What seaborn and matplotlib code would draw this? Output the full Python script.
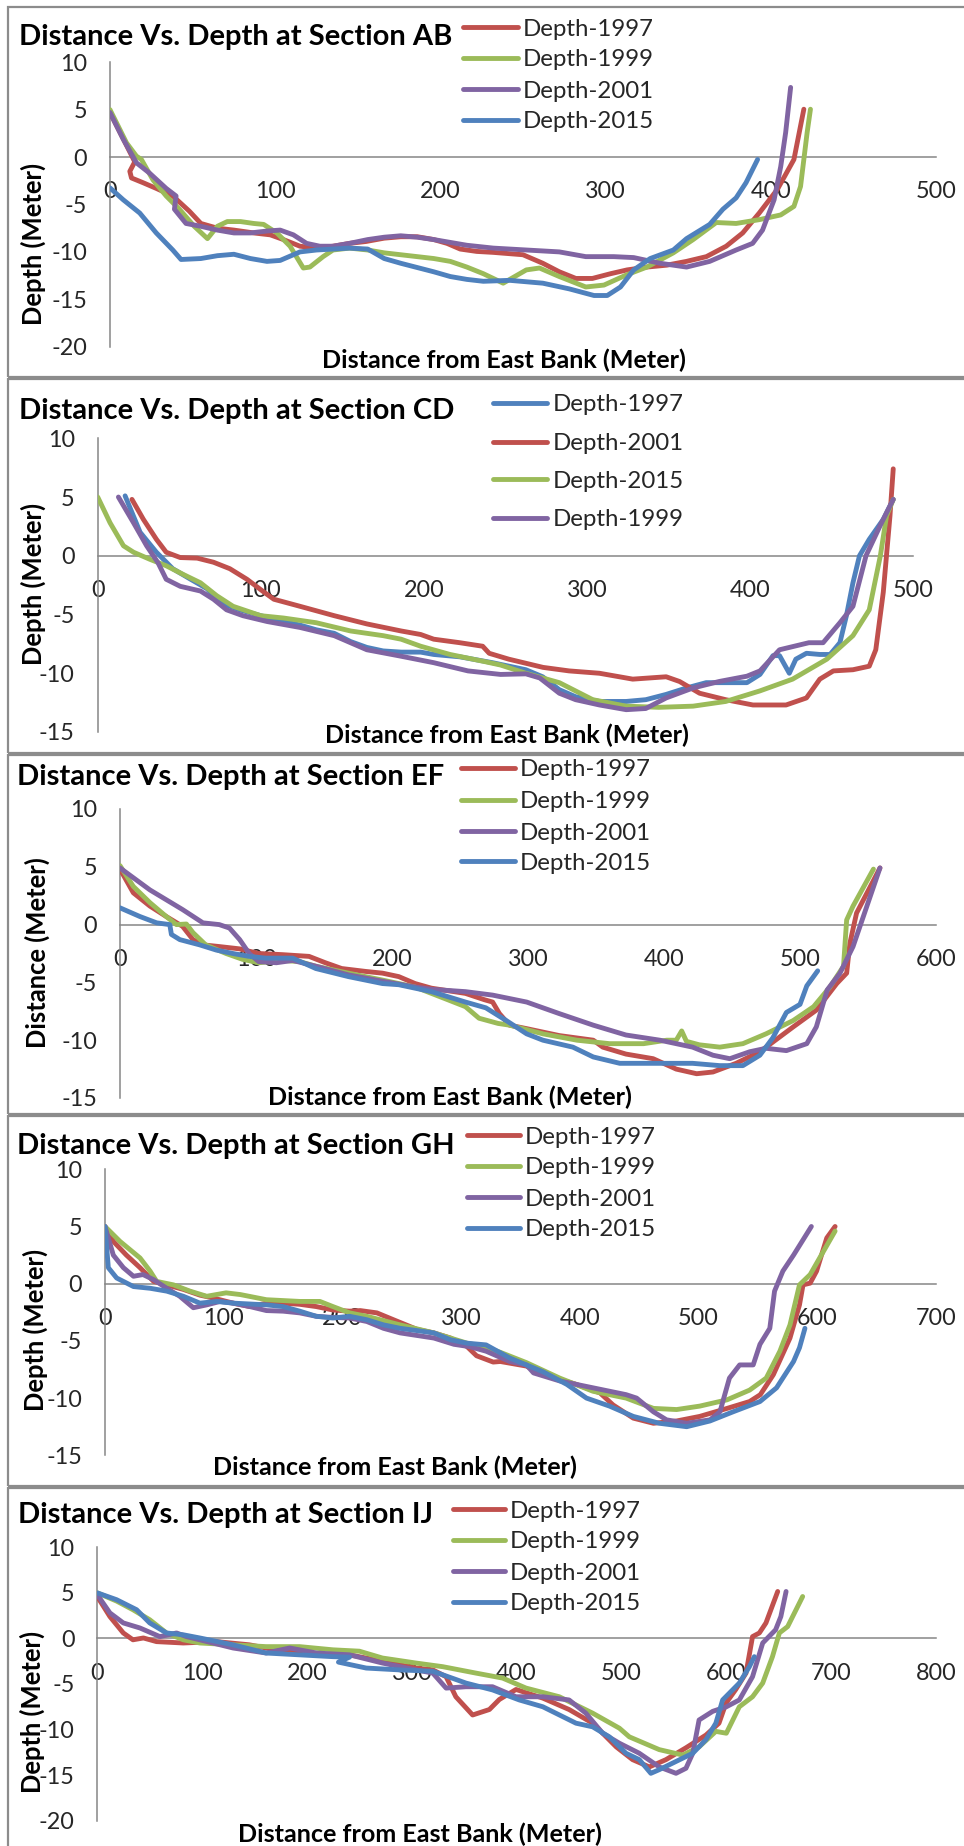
import numpy as np
import pandas as pd
import matplotlib
matplotlib.use("Agg")
import matplotlib.pyplot as plt
import seaborn as sns
from matplotlib.textpath import TextPath
from matplotlib.font_manager import FontProperties
from matplotlib.patches import Rectangle
from matplotlib.lines import Line2D

# ---------------- DATA ----------------
SERIES = ["Depth-1997", "Depth-1999", "Depth-2001", "Depth-2015"]

# Section AB
AB_X_1997 = [0, 15, 12, 13, 20, 28, 38, 48, 55, 65, 75, 87, 97, 105, 115, 125, 135, 145, 155, 166, 176, 186, 196, 204, 212, 222, 232, 250, 262, 272, 282, 292, 303, 313, 325, 337, 349, 361, 373, 383, 393, 404, 414, 420]
AB_Y_1997 = [4.7, -0.5, -1.5, -2.2, -2.7, -3.3, -4.1, -5.7, -7.0, -7.5, -7.7, -8.0, -8.2, -8.7, -9.4, -9.6, -9.4, -9.1, -8.9, -8.55, -8.4, -8.4, -8.7, -9.1, -9.7, -9.95, -10.05, -10.3, -11.2, -12.1, -12.8, -12.8, -12.3, -11.9, -11.6, -11.4, -11.0, -10.5, -9.4, -8.0, -5.9, -3.4, -0.25, 5.05]
AB_X_1999 = [0, 4, 10, 16, 19, 26, 34, 42, 51, 59, 65, 71, 79, 87, 93, 101, 109, 117, 121, 129, 135, 145, 156, 166, 176, 196, 206, 216, 226, 238, 252, 260, 272, 288, 299, 313, 325, 341, 353, 367, 379, 393, 406, 414, 418, 420, 422, 424]
AB_Y_1999 = [5.0, 3.6, 1.5, 0.1, -0.25, -2.4, -4.1, -5.5, -7.3, -8.6, -7.3, -6.8, -6.8, -7.0, -7.1, -8.0, -9.4, -11.7, -11.6, -10.5, -9.8, -9.6, -9.8, -10.1, -10.3, -10.7, -11.0, -11.6, -12.3, -13.3, -11.9, -11.7, -12.6, -13.7, -13.5, -12.4, -11.6, -10.1, -8.7, -6.9, -7.0, -6.6, -6.1, -5.2, -3.1, -0.25, 2.6, 5.05]
AB_X_2001 = [0, 8, 16, 24, 34, 40, 39, 46, 55, 65, 75, 85, 95, 103, 111, 119, 127, 135, 145, 156, 166, 176, 186, 196, 216, 232, 252, 272, 288, 305, 317, 333, 349, 363, 379, 389, 395, 402, 406, 409, 412]
AB_Y_2001 = [4.7, 1.9, -0.6, -1.7, -3.3, -4.1, -5.5, -7.0, -7.3, -7.7, -8.0, -8.0, -7.8, -7.7, -8.2, -9.1, -9.4, -9.4, -9.1, -8.7, -8.45, -8.3, -8.45, -8.7, -9.3, -9.6, -9.8, -10.0, -10.5, -10.5, -10.6, -11.2, -11.6, -11.0, -9.8, -9.1, -7.7, -4.5, -1.0, 2.6, 7.35]
AB_X_2015 = [0, 8, 18, 28, 38, 43, 55, 65, 75, 85, 95, 103, 115, 125, 135, 145, 156, 166, 176, 196, 206, 216, 226, 242, 262, 278, 293, 301, 309, 317, 327, 341, 349, 363, 371, 379, 385, 392]
AB_Y_2015 = [-3.25, -4.5, -5.9, -8.0, -9.8, -10.8, -10.7, -10.4, -10.25, -10.7, -11.0, -10.9, -10.0, -9.8, -9.7, -9.6, -9.7, -10.7, -11.2, -12.1, -12.6, -12.9, -13.1, -13.0, -13.3, -13.9, -14.6, -14.6, -13.7, -11.9, -10.7, -9.8, -8.6, -7.1, -5.5, -4.3, -2.7, -0.25]

# Section CD (legend order differs)
CD_X_1997 = [16.8, 26, 36, 46, 57, 67, 75, 87, 100, 114, 124, 134, 145, 155, 165, 175, 186, 198, 206, 222, 242, 262.5, 272.8, 283, 293, 307.6, 324, 336, 348.5, 361, 373, 385, 398, 406, 414, 418, 424, 428, 434.5, 442.7, 449, 455, 459, 463, 467, 473, 481.6, 487.7]
CD_Y_1997 = [5.1, 2.0, 0.3, -1.1, -2.0, -2.8, -4.0, -4.6, -5.1, -5.6, -5.9, -6.3, -6.6, -7.3, -7.8, -8.1, -8.2, -8.2, -8.4, -8.6, -9.1, -9.7, -10.3, -11.4, -12.0, -12.4, -12.4, -12.25, -11.8, -11.25, -10.8, -10.8, -10.8, -10.1, -8.5, -8.5, -10.0, -8.8, -8.3, -8.4, -8.4, -7.4, -5.1, -2.3, 0.0, 1.4, 3.1, 4.8]
CD_X_2001 = [21, 28, 36, 42, 50.6, 61, 71, 81, 91.5, 102, 108, 124, 145, 165, 186, 198, 206, 222, 236, 240, 252, 273, 289, 307.6, 328, 348.5, 356.7, 369, 385, 401.7, 422, 434.5, 442.7, 451, 463, 473, 477, 481.6, 485.7, 487.7]
CD_Y_2001 = [4.8, 3.1, 1.4, 0.3, -0.15, -0.2, -0.55, -1.1, -2.0, -3.1, -3.7, -4.3, -5.1, -5.8, -6.4, -6.7, -7.1, -7.4, -7.7, -8.3, -8.8, -9.5, -9.8, -10.0, -10.5, -10.3, -10.7, -11.7, -12.25, -12.7, -12.7, -12.1, -10.5, -9.8, -9.7, -9.4, -8.0, -3.1, 3.4, 7.4]
CD_X_2015 = [0, 7.6, 15.8, 22, 32, 42, 52.6, 63, 73, 83, 100, 114, 134, 155, 175, 186, 198, 216, 237, 247, 262.5, 283, 303.5, 324, 344, 365, 385, 406, 426, 447, 463, 473, 479.8, 483.6, 487.7]
CD_Y_2015 = [5.0, 2.8, 0.85, 0.3, -0.3, -0.85, -1.6, -2.3, -3.4, -4.3, -5.1, -5.3, -5.7, -6.4, -6.8, -7.1, -7.7, -8.4, -9.0, -9.3, -10.0, -10.8, -12.25, -12.8, -12.9, -12.8, -12.4, -11.5, -10.5, -8.8, -6.8, -4.6, 0.0, 3.4, 4.8]
CD_X_1999 = [12.7, 22, 30, 37, 42, 50.6, 63, 71, 79, 89, 104, 124, 145, 155, 165, 186, 206, 227, 247, 262.5, 271, 283, 293, 307.6, 324, 336, 348.5, 365, 381, 398, 406, 418, 436, 444.7, 455, 463, 471, 479.8, 487.7]
CD_Y_1999 = [5.0, 2.8, 0.85, -0.6, -2.0, -2.6, -3.0, -3.7, -4.6, -5.1, -5.6, -6.1, -6.8, -7.4, -8.0, -8.55, -9.1, -9.8, -10.1, -10.05, -10.4, -11.7, -12.25, -12.7, -13.1, -13.0, -12.1, -11.25, -10.7, -10.25, -9.8, -8.0, -7.4, -7.4, -5.7, -4.3, 0.0, 2.6, 4.8]

# Section EF
EF_X_1997 = [0, 9.8, 22, 34, 46, 53.7, 61, 73, 88, 102, 119.5, 139, 151, 163, 180.5, 193, 205, 217, 229, 254, 268, 274, 279, 286.5, 299, 323, 348, 355, 372, 392, 409, 424, 436, 453, 470.5, 495, 512, 527, 534.3, 536.7, 541.6, 558.8]
EF_Y_1997 = [4.8, 2.75, 1.6, 0.7, -0.15, -1.3, -1.75, -1.9, -2.1, -2.5, -2.6, -2.75, -3.3, -3.8, -4.05, -4.2, -4.5, -5.1, -5.5, -5.95, -6.5, -6.7, -7.7, -8.7, -9.0, -9.6, -10.0, -10.6, -11.2, -11.6, -12.5, -12.9, -12.75, -12.0, -11.0, -8.85, -7.4, -5.1, -4.2, -1.6, 1.0, 4.9]
EF_X_1999 = [0, 9.8, 22, 34, 41.5, 48.8, 53.7, 63, 78, 90, 102, 119.5, 132, 144, 168, 193, 217, 241, 254, 264, 278, 286.5, 311, 336, 360, 385, 402, 409, 413, 416.5, 426, 441, 458, 475, 495, 510, 522, 532, 534.3, 539, 554]
EF_Y_1999 = [5.1, 3.3, 1.9, 0.7, 0.0, 0.05, -0.7, -1.75, -2.5, -3.0, -3.3, -3.1, -3.2, -3.6, -4.2, -4.8, -5.4, -6.5, -7.1, -8.1, -8.55, -8.7, -9.45, -10.0, -10.3, -10.3, -10.0, -10.0, -9.2, -10.1, -10.4, -10.6, -10.3, -9.45, -8.3, -7.1, -5.4, -3.6, 0.4, 1.6, 4.8]
EF_X_2001 = [0, 22, 46, 61, 73, 80.5, 88, 95, 102, 115, 127, 144, 168, 193, 217, 229, 254, 274, 299, 323, 348, 372, 397, 421, 436, 448.4, 463, 475, 490, 505, 512, 520, 529.4, 539, 558.8]
EF_Y_2001 = [4.9, 3.0, 1.3, 0.15, 0.0, -0.3, -1.3, -2.5, -3.2, -3.3, -3.1, -3.6, -4.35, -4.9, -5.4, -5.6, -5.8, -6.1, -6.7, -7.7, -8.7, -9.55, -10.0, -10.6, -11.3, -11.6, -11.0, -10.7, -10.9, -10.3, -8.85, -5.65, -4.2, -1.9, 4.9]
EF_X_2015 = [0, 14.6, 27, 36.6, 37.8, 44, 58.5, 70.7, 83, 95, 107, 127, 144, 168, 193, 205, 229, 254, 269, 284, 299, 311, 333, 348, 367.5, 397, 421, 441, 458, 470.5, 480, 490, 500, 505, 513]
EF_Y_2015 = [1.45, 0.7, 0.15, 0.0, -0.85, -1.3, -1.75, -2.2, -2.5, -2.75, -2.9, -2.9, -3.8, -4.5, -5.1, -5.2, -5.8, -6.7, -7.2, -8.3, -9.45, -10.0, -10.6, -11.45, -12.0, -12.0, -12.0, -12.2, -12.2, -11.3, -9.8, -7.6, -6.9, -5.3, -4.0]

# Section GH
GH_X_1997 = [0, 7, 18, 29.5, 41, 52, 66, 80, 91, 108, 122, 136, 150, 164, 178, 192, 206, 215, 229, 243, 263, 277, 291, 305, 313, 327, 333, 355, 369, 397, 417, 428, 445, 462, 481.5, 501, 524, 543, 552, 563, 577, 585, 588, 594, 599.4, 608, 615]
GH_Y_1997 = [5.0, 3.7, 2.5, 1.4, 0.2, -0.1, -0.5, -1.0, -1.25, -1.7, -2.0, -1.7, -1.7, -1.8, -2.0, -2.3, -2.4, -2.35, -2.55, -3.15, -4.0, -4.3, -4.75, -5.5, -6.3, -6.85, -6.8, -7.2, -7.95, -8.8, -9.55, -10.6, -11.75, -12.2, -12.0, -11.6, -10.9, -10.3, -9.7, -7.95, -4.75, -1.85, -0.1, 0.05, 1.1, 4.0, 5.0]
GH_X_1999 = [0, 12.6, 29.5, 38, 43.5, 57.6, 71.6, 85.7, 102, 114, 136, 164, 181, 192, 206, 220.5, 248.6, 277, 305, 319, 333, 355, 383, 411, 439, 462, 481.5, 501, 524, 543, 557, 568.5, 577, 585, 594, 602, 615]
GH_Y_1999 = [5.0, 3.7, 2.25, 1.1, 0.2, -0.1, -0.65, -1.1, -0.8, -0.95, -1.4, -1.55, -1.55, -2.0, -2.55, -2.85, -3.6, -4.3, -5.2, -5.5, -6.0, -6.9, -8.25, -9.4, -10.0, -10.9, -11.0, -10.7, -10.15, -9.3, -8.25, -5.9, -3.6, -0.1, 0.8, 2.25, 4.6]
GH_X_2001 = [0, 7, 15.5, 24, 32, 41, 52, 63, 74.4, 85.7, 97, 108, 122, 136, 150, 164, 178, 192, 206, 220.5, 234.6, 248.6, 277, 294, 307, 321, 341, 355, 361, 383, 411, 439, 447.8, 462, 473, 490, 509.6, 518, 526, 534.6, 546, 551.7, 560, 564, 571, 580, 595]
GH_Y_2001 = [5.0, 2.5, 1.4, 0.65, 0.8, 0.35, -0.4, -1.1, -2.1, -1.85, -1.55, -1.7, -2.0, -2.35, -2.4, -2.55, -2.85, -2.95, -3.0, -3.3, -3.9, -4.3, -4.75, -5.3, -5.5, -5.9, -6.8, -7.1, -7.8, -8.5, -9.1, -9.7, -10.0, -11.2, -11.9, -12.2, -11.9, -11.2, -8.25, -7.1, -7.1, -5.3, -3.9, -0.65, 1.1, 2.5, 5.0]
GH_X_2015 = [0, 2.8, 9.8, 24, 38, 52, 66, 80, 94, 108, 136, 150, 164, 178, 192, 206, 220.5, 234.6, 248.6, 277, 291, 305, 321, 341, 369, 389, 405.6, 425, 445, 467, 490, 509.6, 529, 551.7, 565.7, 580, 585, 589.6]
GH_Y_2015 = [5.0, 1.4, 0.5, -0.25, -0.4, -0.65, -1.1, -1.7, -1.55, -1.7, -1.85, -2.0, -2.4, -2.85, -3.0, -2.85, -3.15, -3.6, -3.9, -4.3, -4.9, -5.2, -5.35, -6.5, -7.7, -8.8, -10.0, -10.7, -11.6, -12.2, -12.5, -12.0, -11.2, -10.3, -9.1, -6.8, -5.6, -3.9]

# Section IJ
IJ_X_1997 = [0, 12, 24.8, 34, 44, 56.5, 82, 113.7, 145, 177, 193, 209, 240.6, 272, 304, 320, 332.7, 342, 358, 374, 383.5, 399.4, 425, 450, 472.5, 495, 510.6, 526.6, 542.4, 561.5, 580.6, 593, 599.7, 609, 618.8, 625, 631.5, 637.8, 649]
IJ_Y_1997 = [4.6, 2.4, 0.6, -0.15, 0.05, -0.35, -0.5, -0.35, -0.7, -1.4, -1.6, -1.8, -1.8, -2.5, -3.25, -3.45, -4.2, -6.4, -8.4, -7.8, -6.7, -5.6, -6.55, -7.8, -9.3, -11.9, -13.3, -14.1, -13.3, -12.0, -10.6, -9.3, -7.1, -5.6, -3.8, 0.2, 0.6, 1.7, 5.15]
IJ_X_1999 = [0, 18.4, 34, 50, 66, 82, 97.8, 129.5, 161, 193, 224.8, 250, 272, 304, 329.5, 345.3, 361, 386.6, 409, 440.7, 472.5, 498, 507.5, 536, 558.5, 574, 590, 600, 612.4, 625, 634.7, 644, 650.6, 658.5, 672.8]
IJ_Y_1999 = [5.0, 4.1, 3.15, 2.05, 0.6, -0.15, -0.5, -0.7, -0.9, -0.9, -1.25, -1.4, -2.15, -2.7, -3.1, -3.45, -3.8, -4.35, -5.45, -6.4, -8.2, -9.85, -10.8, -12.2, -12.8, -11.9, -10.2, -10.4, -7.5, -6.4, -4.9, -2.0, 0.6, 1.3, 4.6]
IJ_X_2001 = [0, 12, 24.8, 40.6, 59.7, 75.6, 85, 97.8, 129.5, 161, 183.5, 209, 240.6, 272, 304, 320, 332.7, 351.7, 377, 399.4, 425, 450, 466, 482, 498, 517, 536, 552, 561.5, 568, 574, 587, 600, 612.4, 625, 634.7, 647, 652, 657]
IJ_Y_2001 = [4.8, 2.8, 1.7, 1.15, 0.2, 0.6, 0.2, -0.15, -1.05, -1.6, -1.05, -1.6, -1.8, -2.7, -3.45, -3.8, -5.45, -5.3, -5.3, -6.4, -6.4, -6.75, -8.2, -10.4, -11.5, -12.6, -14.1, -14.8, -14.25, -12.6, -8.95, -8.0, -7.5, -6.75, -4.2, -0.5, 0.95, 2.4, 5.15]
IJ_X_2015 = [0, 18.4, 37.5, 50, 66, 82, 97.8, 129.5, 161, 193, 224.8, 240.6, 230, 256.5, 288, 320, 351.7, 377, 402.5, 425, 456.6, 472.5, 488.4, 504.3, 517, 528, 536, 552, 568, 580.6, 590, 596.5, 612.4, 622, 626.7]
IJ_Y_2015 = [5.0, 4.25, 3.15, 1.7, 0.6, 0.4, 0.05, -0.7, -1.6, -1.8, -2.0, -2.05, -2.6, -3.25, -3.45, -3.6, -4.9, -5.65, -6.75, -7.5, -9.3, -9.7, -10.8, -12.6, -13.3, -14.8, -14.4, -13.5, -12.6, -11.1, -9.3, -6.75, -4.9, -3.1, -2.0]

TITLES = ["Distance Vs. Depth at Section AB", "Distance Vs. Depth at Section CD",
          "Distance Vs. Depth at Section EF", "Distance Vs. Depth at Section GH",
          "Distance Vs. Depth at Section IJ"]
YLABELS = ["Depth (Meter)", "Depth (Meter)", "Distance (Meter)", "Depth (Meter)", "Depth (Meter)"]
XLABEL = "Distance from East Bank (Meter)"

# ---------------- STYLE ----------------
RED, GREEN, PURPLE, BLUE = "#C0504D", "#9BBB59", "#8064A2", "#4F81BD"
sns.set_style("white")
FONT = ["Lato", "DejaVu Sans"]
plt.rcParams["font.family"] = FONT
plt.rcParams["axes.unicode_minus"] = False

W, H = 964, 1846
fig = plt.figure(figsize=(W / 100, H / 100), dpi=100)
fig.patch.set_facecolor("white")


def fx(px):
    return px / W


def fy(py):
    return 1 - py / H


def fit_size(text, target_px, weight="normal"):
    prop = FontProperties(family=FONT, weight=weight)
    tp = TextPath((0, 0), text, size=100, prop=prop)
    w = tp.get_extents().width
    return 72.0 * target_px / w


TITLE_FS = fit_size(TITLES[0], 430, "bold")
LEG_FS = fit_size("Depth-1997", 128)
TICK_FS = fit_size("100", 38)
XLAB_FS = fit_size(XLABEL, 361, "bold")
YLAB_FS = fit_size("Depth (Meter)", 160, "bold")

AXIS_GRAY = "#868686"
LW = 3.5

panels = [
    dict(data=[(SERIES[0], AB_X_1997, AB_Y_1997, RED), (SERIES[1], AB_X_1999, AB_Y_1999, GREEN),
               (SERIES[2], AB_X_2001, AB_Y_2001, PURPLE), (SERIES[3], AB_X_2015, AB_Y_2015, BLUE)],
         box=(110, 62.3, 936, 346.7), xmax=500, ylim=(-20, 10),
         frame=(7, 377), title=(19, 45), xlab=(322, 368), ylab=(33, 244),
         leg=(463, 518, 523, [27, 58, 89, 120])),
    dict(data=[("Depth-1997", CD_X_1997, CD_Y_1997, BLUE), ("Depth-2001", CD_X_2001, CD_Y_2001, RED),
               ("Depth-2015", CD_X_2015, CD_Y_2015, GREEN), ("Depth-1999", CD_X_1999, CD_Y_1999, PURPLE)],
         box=(97.7, 438.3, 913.3, 732), xmax=500, ylim=(-15, 10),
         frame=(379, 753), title=(19, 419), xlab=(325, 743), ylab=(33, 584),
         leg=(493, 547, 553, [403, 442, 479, 518])),
    dict(data=[(SERIES[0], EF_X_1997, EF_Y_1997, RED), (SERIES[1], EF_X_1999, EF_Y_1999, GREEN),
               (SERIES[2], EF_X_2001, EF_Y_2001, PURPLE), (SERIES[3], EF_X_2015, EF_Y_2015, BLUE)],
         box=(120, 809, 936, 1098), xmax=600, ylim=(-15, 10),
         frame=(755, 1114), title=(17, 785), xlab=(268, 1105), ylab=(37, 953),
         leg=(461, 515, 520, [768, 800, 831, 861])),
    dict(data=[(SERIES[0], GH_X_1997, GH_Y_1997, RED), (SERIES[1], GH_X_1999, GH_Y_1999, GREEN),
               (SERIES[2], GH_X_2001, GH_Y_2001, PURPLE), (SERIES[3], GH_X_2015, GH_Y_2015, BLUE)],
         box=(105, 1169.3, 936, 1455.3), xmax=700, ylim=(-15, 10),
         frame=(1116, 1486), title=(17, 1154), xlab=(213, 1475), ylab=(35, 1330),
         leg=(467, 520, 525, [1135, 1166, 1197, 1228])),
    dict(data=[(SERIES[0], IJ_X_1997, IJ_Y_1997, RED), (SERIES[1], IJ_X_1999, IJ_Y_1999, GREEN),
               (SERIES[2], IJ_X_2001, IJ_Y_2001, PURPLE), (SERIES[3], IJ_X_2015, IJ_Y_2015, BLUE)],
         box=(97.3, 1547.3, 936, 1820.7), xmax=800, ylim=(-20, 10),
         frame=(1488, 1852), title=(18, 1523), xlab=(238, 1842), ylab=(32, 1712),
         leg=(453, 505, 510, [1509, 1540, 1571, 1602])),
]

for i, p in enumerate(panels):
    # panel frame
    top, bot = p["frame"]
    fig.add_artist(Rectangle((fx(8), fy(bot)), fx(968) - fx(8), fy(top) - fy(bot),
                             transform=fig.transFigure, fill=False, ec="#8c8c8c", lw=1.6))

    l, t, r, b = p["box"]
    ax = fig.add_axes([fx(l), fy(b), fx(r) - fx(l), fy(t) - fy(b)])
    ax.patch.set_alpha(0)

    frames = []
    for name, xs, ys, c in p["data"]:
        frames.append(pd.DataFrame({"Distance": xs, "Depth": ys, "Series": name}))
    df = pd.concat(frames, ignore_index=True)
    order = [d[0] for d in p["data"]]
    pal = {d[0]: d[3] for d in p["data"]}
    sns.lineplot(data=df, x="Distance", y="Depth", hue="Series", hue_order=order, palette=pal,
                 sort=False, estimator=None, lw=LW, legend=False, ax=ax,
                 solid_capstyle="round", solid_joinstyle="round", zorder=3)

    ax.set_xlim(0, p["xmax"])
    ax.set_ylim(*p["ylim"])
    ax.set_xticks(np.arange(0, p["xmax"] + 1, 100))
    ax.set_yticks(np.arange(p["ylim"][0], p["ylim"][1] + 1, 5))
    ax.set_xlabel("")
    ax.set_ylabel("")
    ax.grid(False)
    for s in ["top", "right"]:
        ax.spines[s].set_visible(False)
    ax.spines["bottom"].set_position(("data", 0))
    for s in ["left", "bottom"]:
        ax.spines[s].set_color(AXIS_GRAY)
        ax.spines[s].set_linewidth(1.1)
    ax.tick_params(axis="x", direction="out", length=5.5, width=1.1, color=AXIS_GRAY,
                   pad=12, labelsize=TICK_FS, labelcolor="#262626")
    ax.tick_params(axis="y", direction="out", length=5.5, width=1.1, color=AXIS_GRAY,
                   pad=11, labelsize=TICK_FS, labelcolor="#262626")

    # title, axis labels
    fig.text(fx(p["title"][0]), fy(p["title"][1]), TITLES[i], fontsize=TITLE_FS,
             fontweight="bold", ha="left", va="baseline", color="black")
    fig.text(fx(p["xlab"][0]), fy(p["xlab"][1]), XLABEL, fontsize=XLAB_FS,
             fontweight="bold", ha="left", va="baseline", color="black")
    fig.text(fx(p["ylab"][0]), fy(p["ylab"][1]), YLABELS[i], fontsize=YLAB_FS,
             fontweight="bold", ha="center", va="center", rotation=90, color="black")

    # legend
    x0, x1, tx, rows = p["leg"]
    for (name, xs, ys, c), ry in zip(p["data"], rows):
        fig.add_artist(Line2D([fx(x0), fx(x1)], [fy(ry), fy(ry)], transform=fig.transFigure,
                              color=c, lw=LW, solid_capstyle="round"))
        fig.text(fx(tx), fy(ry), name, fontsize=LEG_FS, ha="left", va="center_baseline",
                 color="#262626")

fig.savefig("out.png", dpi=100, facecolor="white")
